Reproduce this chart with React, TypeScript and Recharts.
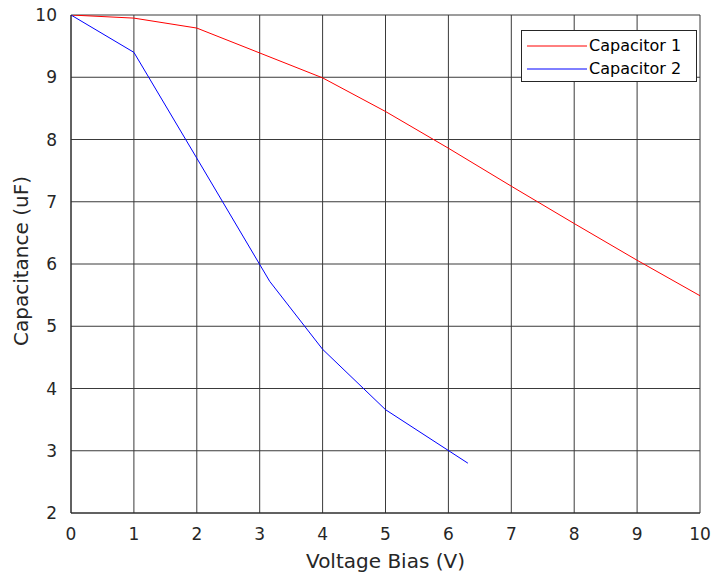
import { LineChart, Line, XAxis, YAxis, CartesianGrid } from "recharts"

const cap1 = [
  { v: 0, c: 10 },
  { v: 1, c: 9.95 },
  { v: 2, c: 9.79 },
  { v: 4, c: 8.99 },
  { v: 5, c: 8.45 },
  { v: 6, c: 7.86 },
  { v: 7, c: 7.25 },
  { v: 8, c: 6.65 },
  { v: 9, c: 6.06 },
  { v: 10, c: 5.49 },
]

const cap2 = [
  { v: 0, c: 10 },
  { v: 1, c: 9.4 },
  { v: 2, c: 7.7 },
  { v: 3.16, c: 5.72 },
  { v: 4, c: 4.63 },
  { v: 5, c: 3.66 },
  { v: 6.31, c: 2.8 },
]

const series = [
  { name: "Capacitor 1", color: "#ff0000", data: cap1 },
  { name: "Capacitor 2", color: "#0000ff", data: cap2 },
]

const xTicks = [0, 1, 2, 3, 4, 5, 6, 7, 8, 9, 10]
const yTicks = [2, 3, 4, 5, 6, 7, 8, 9, 10]

const font = "'DejaVu Sans', sans-serif"
const ink = "#262626"

function LegendBox() {
  return (
    <div style={{ position: "absolute", left: 521, top: 30, width: 174, border: "1px solid #262626", background: "#fff", padding: "3px 0 1px", fontFamily: font, fontSize: 16, color: "#000", lineHeight: "23px" }}>
      {series.map((s) => (
        <div key={s.name} style={{ display: "flex", alignItems: "center" }}>
          <svg width={67} height={10} style={{ display: "block" }}>
            <line x1={5} x2={65} y1={5} y2={5} stroke={s.color} strokeWidth={1} />
          </svg>
          <span>{s.name}</span>
        </div>
      ))}
    </div>
  )
}

export default function App() {
  return (
    <div style={{ position: "absolute", left: 0, top: 0, width: 715, height: 573, background: "#fff" }}>
      <LineChart width={715} height={573} margin={{ top: 15, right: 15, bottom: 0, left: 31 }}>
        <CartesianGrid stroke="#3a3a3a" strokeWidth={1} horizontalValues={yTicks} verticalValues={xTicks} />
        <XAxis
          type="number"
          dataKey="v"
          domain={[0, 10]}
          ticks={xTicks}
          allowDataOverflow
          height={60}
          tickLine={false}
          axisLine={{ stroke: ink }}
          tick={{ fill: ink, fontFamily: font, fontSize: 17 }}
          tickMargin={9}
          label={{ value: "Voltage Bias (V)", position: "insideBottom", offset: 5, fill: ink, fontFamily: font, fontSize: 20 }}
        />
        <YAxis
          type="number"
          domain={[2, 10]}
          ticks={yTicks}
          allowDataOverflow
          width={40}
          tickLine={false}
          axisLine={{ stroke: ink }}
          tick={{ fill: ink, fontFamily: font, fontSize: 17 }}
          tickMargin={8}
          label={{ value: "Capacitance (uF)", angle: -90, position: "insideLeft", offset: -10, dy: 82, fill: ink, fontFamily: font, fontSize: 20 }}
        />
        {series.map((s) => (
          <Line key={s.name} data={s.data} dataKey="c" name={s.name} type="linear" stroke={s.color} strokeWidth={1} dot={false} isAnimationActive={false} />
        ))}
      </LineChart>
      <LegendBox />
    </div>
  )
}
